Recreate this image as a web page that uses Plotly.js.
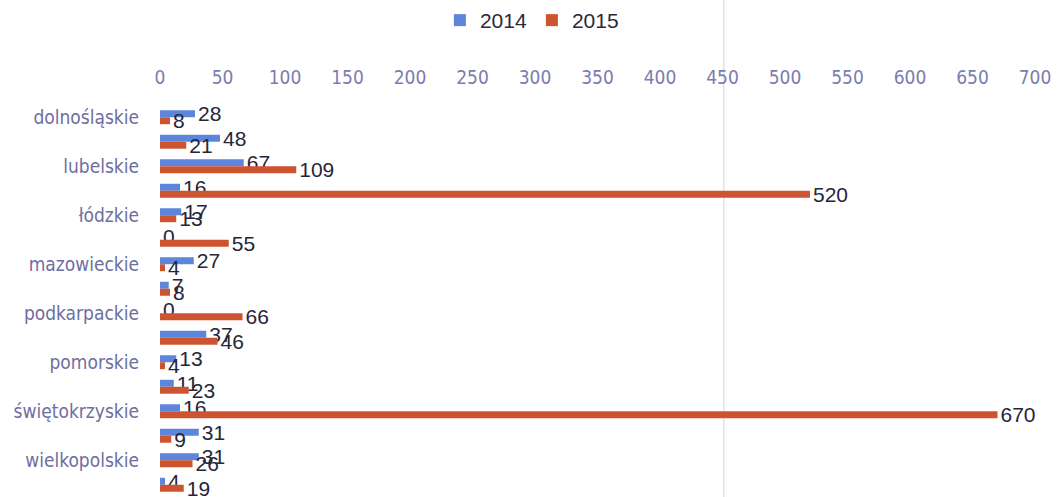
<!DOCTYPE html>
<html>
<head>
<meta charset="utf-8">
<script src="https://cdn.plot.ly/plotly-3.0.1.min.js"></script>
<style>html,body{margin:0;padding:0;background:#fff;}#chart{width:1064px;height:497px;}</style>
</head>
<body>
<div id="chart"></div>
<script>
const categories = ["dolnośląskie","kujawsko-pomorskie","lubelskie","lubuskie","łódzkie","małopolskie","mazowieckie","opolskie","podkarpackie","podlaskie","pomorskie","śląskie","świętokrzyskie","warmińsko-mazurskie","wielkopolskie","zachodniopomorskie"];
const values2014 = [28,48,67,16,17,0,27,7,0,37,13,11,16,31,31,4];
const values2015 = [8,21,109,520,13,55,4,8,66,46,4,23,670,9,26,19];
const seriesNames = ["2014","2015"];
const xTicks = [0,50,100,150,200,250,300,350,400,450,500,550,600,650,700];
const shownLabels = categories.filter((c,i)=>i%2===0);

const labelFont = {family:"Liberation Sans, Arial, sans-serif", size:21, color:"#262638"};
const traces = [
  {type:"bar", orientation:"h", name:seriesNames[0], y:categories, x:values2014,
   marker:{color:"#5b86dc"}, text:values2014.map(String), textposition:"outside",
   textfont:labelFont, cliponaxis:false, constraintext:"none"},
  {type:"bar", orientation:"h", name:seriesNames[1], y:categories, x:values2015,
   marker:{color:"#cc5431"}, text:values2015.map(String), textposition:"outside",
   textfont:labelFont, cliponaxis:false, constraintext:"none"}
];
const layout = {
  width:1064, height:497,
  margin:{l:160, r:29, t:105, b:0},
  paper_bgcolor:"#fff", plot_bgcolor:"#fff",
  barmode:"group", bargap:0.43, bargroupgap:0,
  showlegend:true,
  legend:{orientation:"h", x:0.425, xanchor:"center", y:1.217, yanchor:"middle",
    font:{family:"Liberation Sans, Arial, sans-serif", size:21, color:"#2a2a3c"}, traceorder:"normal"},
  xaxis:{side:"top", range:[0,700], tickvals:xTicks, ticktext:xTicks.map(String),
    showgrid:false, zeroline:false, showline:false, ticks:"",
    ticklabelstandoff:16,
    tickfont:{family:"DejaVu Sans Condensed, Liberation Sans Narrow, Arial Narrow, sans-serif", size:19, color:"#7c7cae"}},
  yaxis:{type:"category", autorange:"reversed", tickmode:"array", tickvals:shownLabels, ticktext:shownLabels,
    showgrid:false, zeroline:false, showline:false, ticks:"", ticklabelstandoff:20,
    tickfont:{family:"DejaVu Sans Condensed, Liberation Sans Narrow, Arial Narrow, sans-serif", size:19, color:"#6e6ea0"}},
  shapes:[{type:"line", xref:"x", yref:"paper", x0:451, x1:451, y0:0, y1:1.27,
    line:{color:"#e2e2e6", width:1.5}, layer:"below"}]
};
Plotly.newPlot("chart", traces, layout, {displayModeBar:false, staticPlot:true});
</script>
</body>
</html>
